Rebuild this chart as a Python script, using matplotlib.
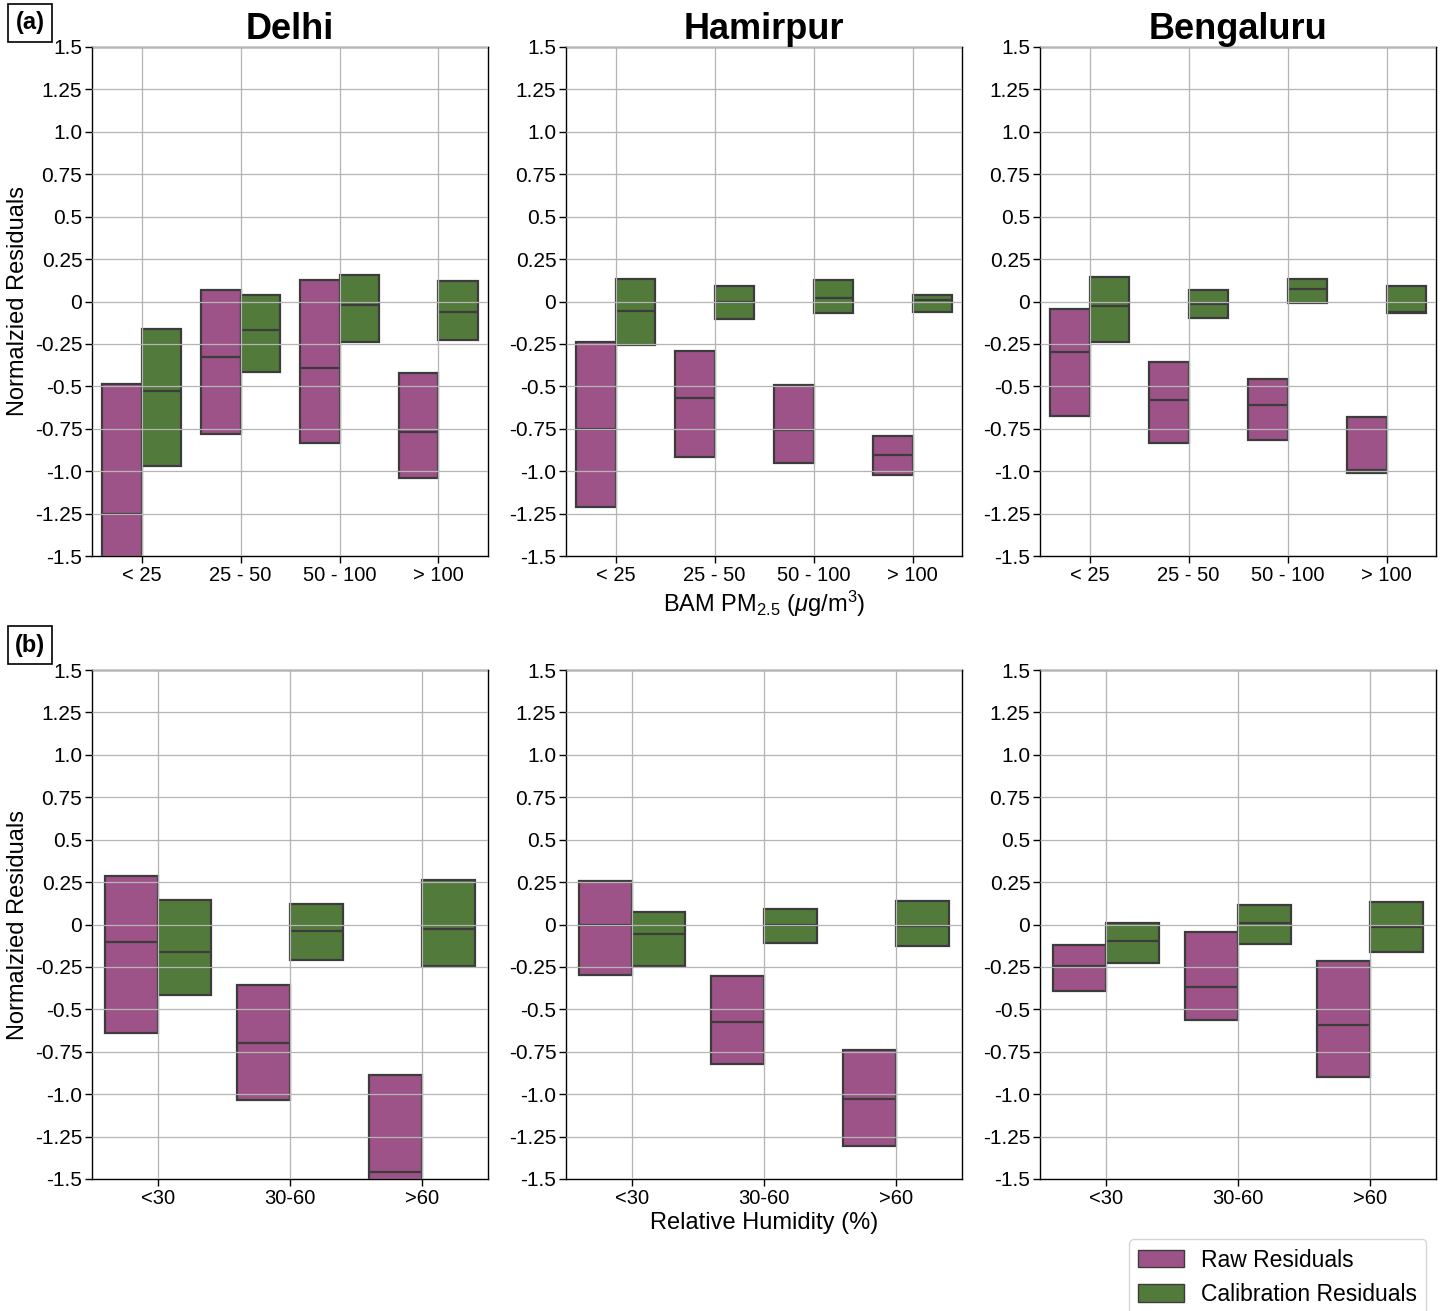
import numpy as np
import matplotlib.pyplot as plt
from matplotlib.patches import Patch

plt.rcParams['font.family'] = ['Liberation Sans', 'DejaVu Sans']
plt.rcParams['mathtext.fontset'] = 'custom'
plt.rcParams['mathtext.rm'] = 'Liberation Sans'
plt.rcParams['mathtext.it'] = 'Liberation Sans:italic'

cities = ['Delhi', 'Hamirpur', 'Bengaluru']
pm_bins = ['< 25', '25 - 50', '50 - 100', '> 100']
rh_bins = ['<30', '30-60', '>60']
ytick_vals = [1.5, 1.25, 1.0, 0.75, 0.5, 0.25, 0, -0.25, -0.5, -0.75, -1.0, -1.25, -1.5]
ytick_labels = ['1.5', '1.25', '1.0', '0.75', '0.5', '0.25', '0',
                '-0.25', '-0.5', '-0.75', '-1.0', '-1.25', '-1.5']

# (a) PM2.5 bins: [q1, median, q3] per bin
pm_raw = {
    'Delhi':     [[-1.65, -1.254, -0.488], [-0.779, -0.327, 0.066], [-0.832, -0.394, 0.128], [-1.042, -0.769, -0.421]],
    'Hamirpur':  [[-1.211, -0.751, -0.239], [-0.916, -0.569, -0.292], [-0.952, -0.757, -0.492], [-1.022, -0.905, -0.793]],
    'Bengaluru': [[-0.675, -0.298, -0.044], [-0.834, -0.580, -0.357], [-0.816, -0.610, -0.457], [-1.011, -0.993, -0.681]],
}
pm_cal = {
    'Delhi':     [[-0.969, -0.525, -0.162], [-0.415, -0.166, 0.038], [-0.241, -0.021, 0.156], [-0.229, -0.060, 0.121]],
    'Hamirpur':  [[-0.256, -0.056, 0.133], [-0.103, -0.003, 0.091], [-0.068, 0.021, 0.127], [-0.062, 0.009, 0.038]],
    'Bengaluru': [[-0.239, -0.027, 0.144], [-0.097, -0.015, 0.068], [-0.009, 0.074, 0.133], [-0.068, -0.062, 0.091]],
}

# (b) RH bins
rh_raw = {
    'Delhi':     [[-0.637, -0.105, 0.286], [-1.036, -0.700, -0.358], [-1.70, -1.460, -0.889]],
    'Hamirpur':  [[-0.298, -0.003, 0.256], [-0.822, -0.575, -0.303], [-1.306, -1.029, -0.740]],
    'Bengaluru': [[-0.392, -0.245, -0.121], [-0.563, -0.368, -0.044], [-0.899, -0.592, -0.215]],
}
rh_cal = {
    'Delhi':     [[-0.413, -0.164, 0.144], [-0.211, -0.036, 0.121], [-0.245, -0.028, 0.260]],
    'Hamirpur':  [[-0.245, -0.056, 0.074], [-0.109, -0.003, 0.091], [-0.127, -0.009, 0.138]],
    'Bengaluru': [[-0.227, -0.097, 0.009], [-0.115, 0.009, 0.115], [-0.162, -0.015, 0.133]],
}

raw_color = '#9e5388'
cal_color = '#527a3b'
edge = '#3c3c3c'


def stats_from(qs):
    return [dict(q1=q[0], med=q[1], q3=q[2], whislo=q[0], whishi=q[2], fliers=[]) for q in qs]


def draw_panel(ax, raw, cal, bins):
    x = np.arange(len(bins))
    for qs, color, off in [(raw, raw_color, -0.2), (cal, cal_color, 0.2)]:
        bp = ax.bxp(stats_from(qs), positions=x + off, widths=0.4, patch_artist=True,
                    showfliers=False, showcaps=False,
                    whiskerprops=dict(visible=False),
                    medianprops=dict(color=edge, linewidth=1.6),
                    boxprops=dict(edgecolor=edge, linewidth=1.6))
        for b in bp['boxes']:
            b.set_facecolor(color)
    ax.set_xlim(-0.5, len(bins) - 0.5)
    ax.set_xticks(x)
    ax.set_xticklabels(bins, fontsize=14.5)
    ax.set_ylim(-1.5, 1.5)
    ax.set_yticks(ytick_vals)
    ax.set_yticklabels(ytick_labels, fontsize=15)
    ax.grid(True, color='#b4b4b4', linewidth=0.9)
    ax.set_axisbelow(False)
    ax.tick_params(length=5, width=1, pad=2)
    for s in ax.spines.values():
        s.set_linewidth(1.0)


fig = plt.figure(figsize=(14.45, 13.11), dpi=100)
lefts = [92 / 1445, 566 / 1445, 1040 / 1445]
w = 396 / 1445
h = 509 / 1311
bottoms = [1 - 556 / 1311, 1 - 1179 / 1311]

for i, city in enumerate(cities):
    ax = fig.add_axes([lefts[i], bottoms[0], w, h])
    draw_panel(ax, pm_raw[city], pm_cal[city], pm_bins)
    ax.set_title(city, fontsize=26, fontweight='bold', pad=4)
    if i == 0:
        ax.set_ylabel('Normalzied Residuals', fontsize=17, labelpad=4)
    if i == 1:
        ax.set_xlabel(r'BAM PM$_{2.5}$ ($\mu$g/m$^3$)', fontsize=17, labelpad=3)

    ax = fig.add_axes([lefts[i], bottoms[1], w, h])
    draw_panel(ax, rh_raw[city], rh_cal[city], rh_bins)
    if i == 0:
        ax.set_ylabel('Normalzied Residuals', fontsize=17, labelpad=4)
    if i == 1:
        ax.set_xlabel('Relative Humidity (%)', fontsize=17, labelpad=3)

box = dict(boxstyle='square,pad=0.3', facecolor='white', edgecolor='black', linewidth=1.2)
fig.text(30 / 1445, 1 - 23 / 1311, '(a)', fontsize=17, fontweight='bold', ha='center', va='center', bbox=box)
fig.text(30 / 1445, 1 - 645 / 1311, '(b)', fontsize=17, fontweight='bold', ha='center', va='center', bbox=box)

handles = [Patch(facecolor=raw_color, edgecolor=edge, label='Raw Residuals'),
           Patch(facecolor=cal_color, edgecolor=edge, label='Calibration Residuals')]
fig.legend(handles=handles, loc='lower right', bbox_to_anchor=(0.995, -0.012), fontsize=16.5,
           handlelength=2.0, handleheight=0.8, handletextpad=0.75, frameon=True,
           edgecolor='#cccccc')

fig.savefig('out.png', dpi=100)
